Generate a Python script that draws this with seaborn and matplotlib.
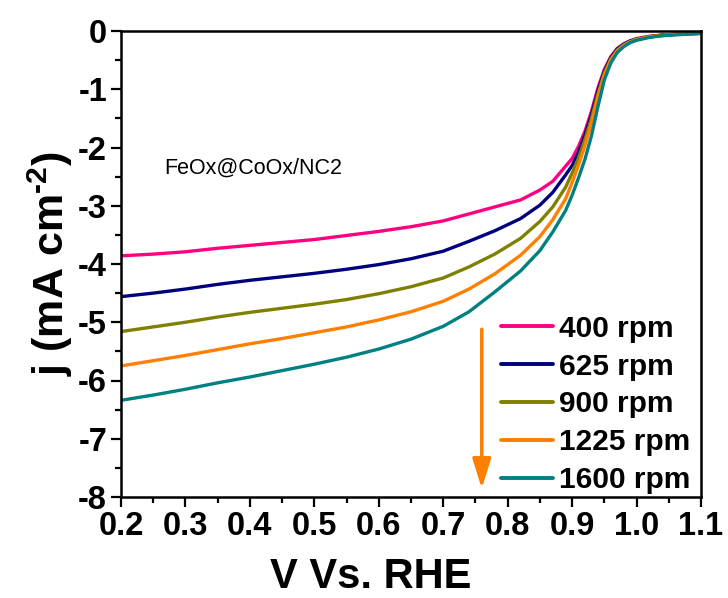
import numpy as np
import pandas as pd
import matplotlib
matplotlib.use("Agg")
import matplotlib.pyplot as plt
import seaborn as sns
from matplotlib.ticker import MultipleLocator

potential = [0.20, 0.25, 0.30, 0.35, 0.40, 0.45, 0.50, 0.55, 0.60, 0.65, 0.70, 0.74,
             0.78, 0.82, 0.85, 0.87, 0.89, 0.90, 0.91, 0.92, 0.93, 0.94, 0.95, 0.96,
             0.97, 0.98, 0.99, 1.00, 1.02, 1.04, 1.07, 1.10]

j_400 = [-3.86, -3.83, -3.79, -3.73, -3.68, -3.63, -3.58, -3.51, -3.44, -3.36, -3.26, -3.14,
         -3.02, -2.90, -2.73, -2.58, -2.32, -2.19, -1.98, -1.72, -1.38, -0.98, -0.66, -0.44,
         -0.30, -0.22, -0.17, -0.13, -0.09, -0.07, -0.05, -0.04]
j_625 = [-4.56, -4.50, -4.43, -4.35, -4.28, -4.22, -4.16, -4.09, -4.01, -3.91, -3.78, -3.61,
         -3.43, -3.22, -2.99, -2.77, -2.47, -2.31, -2.08, -1.78, -1.44, -1.03, -0.69, -0.46,
         -0.31, -0.23, -0.17, -0.14, -0.10, -0.07, -0.05, -0.04]
j_900 = [-5.16, -5.08, -5.00, -4.91, -4.83, -4.76, -4.69, -4.61, -4.51, -4.39, -4.24, -4.05,
         -3.83, -3.56, -3.27, -3.02, -2.68, -2.44, -2.18, -1.86, -1.50, -1.08, -0.72, -0.48,
         -0.33, -0.24, -0.18, -0.14, -0.10, -0.07, -0.05, -0.04]
j_1225 = [-5.75, -5.66, -5.57, -5.47, -5.37, -5.28, -5.18, -5.08, -4.96, -4.82, -4.64, -4.43,
          -4.17, -3.85, -3.53, -3.24, -2.88, -2.60, -2.30, -1.96, -1.58, -1.14, -0.76, -0.50,
          -0.34, -0.25, -0.19, -0.15, -0.10, -0.08, -0.05, -0.04]
j_1600 = [-6.34, -6.25, -6.15, -6.04, -5.94, -5.83, -5.72, -5.60, -5.46, -5.29, -5.07, -4.82,
          -4.48, -4.12, -3.77, -3.45, -3.08, -2.82, -2.52, -2.20, -1.80, -1.30, -0.84, -0.55,
          -0.37, -0.27, -0.20, -0.16, -0.11, -0.08, -0.06, -0.04]

labels = ["400 rpm", "625 rpm", "900 rpm", "1225 rpm", "1600 rpm"]
colors = ["#FF0080", "#00007F", "#808000", "#FF8000", "#008080"]
series = [j_400, j_625, j_900, j_1225, j_1600]

df = pd.concat([pd.DataFrame({"V": potential, "j": s, "rpm": lab})
                for s, lab in zip(series, labels)], ignore_index=True)

sns.set_theme(style="ticks")
plt.rcParams["font.family"] = ["Liberation Sans", "DejaVu Sans"]
plt.rcParams["mathtext.fontset"] = "custom"
plt.rcParams["mathtext.rm"] = "Liberation Sans:bold"
plt.rcParams["mathtext.bf"] = "Liberation Sans:bold"
plt.rcParams["mathtext.it"] = "Liberation Sans:bold"
plt.rcParams["lines.solid_capstyle"] = "round"
plt.rcParams["lines.solid_joinstyle"] = "round"
for key in ["text.color", "axes.labelcolor", "xtick.color", "ytick.color",
            "xtick.labelcolor", "ytick.labelcolor"]:
    plt.rcParams[key] = "black"

fig = plt.figure(figsize=(7.28, 5.98), dpi=100)
ax = fig.add_axes([121/728, 1-497/598, 580/728, 466/598])

sns.lineplot(data=df, x="V", y="j", hue="rpm", palette=colors, hue_order=labels,
             linewidth=2.4, ax=ax, sort=False, estimator=None)

ax.set_xlim(0.2, 1.1)
ax.set_ylim(-8, 0)
ax.xaxis.set_major_locator(MultipleLocator(0.1))
ax.xaxis.set_minor_locator(MultipleLocator(0.05))
ax.yaxis.set_major_locator(MultipleLocator(1))
ax.yaxis.set_minor_locator(MultipleLocator(0.5))
ax.set_xticks(ax.get_xticks())
ax.set_xticklabels([f"{v:.1f}" for v in ax.get_xticks()])
ax.set_yticks(ax.get_yticks())
ax.set_yticklabels([f"{int(round(v))}" for v in ax.get_yticks()])
ax.set_xlim(0.2, 1.1)
ax.set_ylim(-8, 0)

ax.tick_params(which="major", direction="out", length=7, width=1.6, labelsize=23.5, pad=3,
               color="black", labelcolor="black")
ax.tick_params(which="minor", direction="out", length=4, width=1.6, color="black")
for lab in ax.get_xticklabels() + ax.get_yticklabels():
    lab.set_fontweight("bold")
for sp in ax.spines.values():
    sp.set_linewidth(1.8)
    sp.set_color("black")

ax.set_xlabel("V Vs. RHE", fontsize=30, fontweight="bold", labelpad=11, color="black")
ax.xaxis.label.set_x(0.431)
ax.set_ylabel("j (mA cm$^{\u2010 2}$)", fontsize=31, fontweight="bold", labelpad=2,
              color="black")

ax.text(0.075, 0.705, "FeOx@CoOx/NC2", transform=ax.transAxes, fontsize=15.5,
        ha="left", va="center", color="black")

leg = ax.legend(loc="lower right", bbox_to_anchor=(0.981, 0.006), frameon=False,
                handlelength=1.74, handletextpad=0.2, labelspacing=0.33,
                borderaxespad=0, borderpad=0, prop={"weight": "bold", "size": 21.5})
for line in leg.get_lines():
    line.set_linewidth(2.8)
for t in leg.get_texts():
    t.set_color("black")

ax.annotate("", xy=(0.622, 0.018), xytext=(0.622, 0.36), xycoords="axes fraction",
            arrowprops=dict(arrowstyle="-|>,head_length=0.9,head_width=0.28",
                            mutation_scale=20, color="#FF8000", lw=2.5,
                            shrinkA=0, shrinkB=0))

fig.savefig("out.png", dpi=100)
